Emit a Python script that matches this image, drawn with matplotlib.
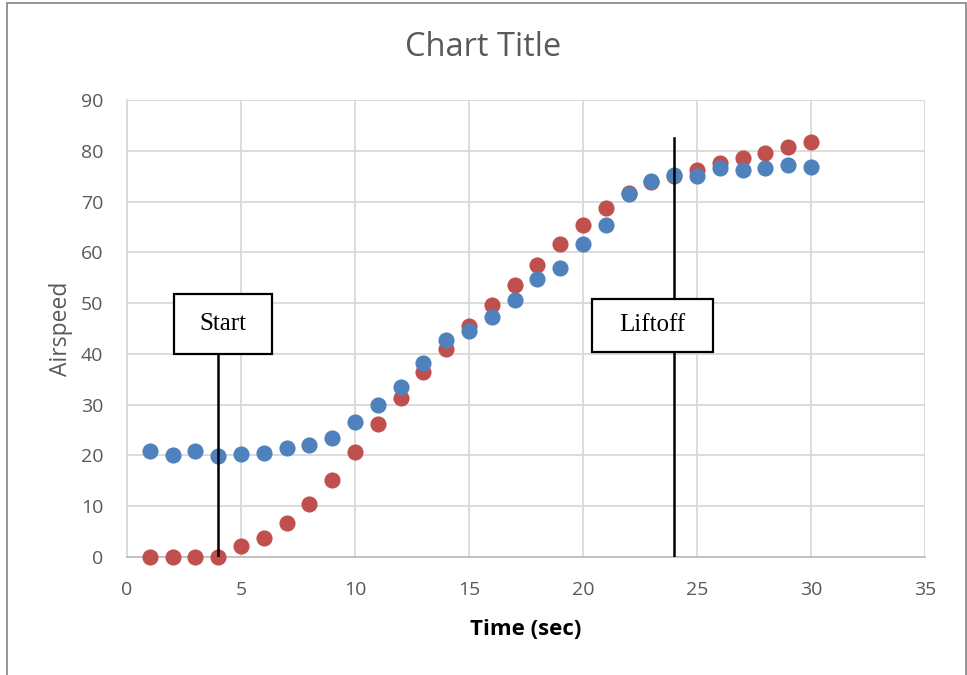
import matplotlib
matplotlib.use("Agg")
import matplotlib.pyplot as plt
from matplotlib.patches import Rectangle

# Time samples (seconds)
time_sec = [1, 2, 3, 4, 5, 6, 7, 8, 9, 10, 11, 12, 13, 14, 15,
            16, 17, 18, 19, 20, 21, 22, 23, 24, 25, 26, 27, 28, 29, 30]

# Airspeed series
airspeed_red = [0.0, 0.0, 0.0, 0.0, 2.2, 3.8, 6.6, 10.5, 15.2, 20.6,
                26.1, 31.4, 36.4, 40.9, 45.4, 49.6, 53.6, 57.6, 61.7, 65.4,
                68.7, 71.7, 73.9, 75.1, 76.3, 77.5, 78.5, 79.5, 80.7, 81.7]
airspeed_blue = [20.8, 20.1, 20.8, 19.8, 20.3, 20.5, 21.5, 22.0, 23.5, 26.5,
                 30.0, 33.5, 38.3, 42.8, 44.6, 47.3, 50.6, 54.8, 57.0, 61.6,
                 65.3, 71.5, 74.0, 75.2, 75.0, 76.6, 76.2, 76.7, 77.2, 76.9]

# Event markers
start_time = 4
liftoff_time = 24

x_ticks = [0, 5, 10, 15, 20, 25, 30, 35]
y_ticks = [0, 10, 20, 30, 40, 50, 60, 70, 80, 90]

RED = "#C0504D"
BLUE = "#4F81BD"
TEXT_GRAY = "#595959"
GRID = "#D9D9D9"

plt.rcParams["font.family"] = ["Open Sans", "DejaVu Sans"]

fig = plt.figure(figsize=(9.67, 6.75), dpi=100)
ax = fig.add_axes([127 / 967, 1 - 557 / 675, (925 - 127) / 967, (557 - 100) / 675])

# Outer chart border
fig.patches.append(Rectangle((6.5 / 967, -0.01), (966 - 6.5) / 967, 1.01 - 3 / 675,
                             transform=fig.transFigure, fill=False,
                             edgecolor="#8C8C8C", linewidth=1.3, zorder=0))

ax.set_xlim(0, 35)
ax.set_ylim(0, 90)
ax.set_xticks(x_ticks)
ax.set_yticks(y_ticks)
ax.grid(True, color=GRID, linewidth=1.3, zorder=0)
ax.set_axisbelow(True)
for side in ("top", "right"):
    ax.spines[side].set_visible(False)
ax.spines["left"].set_color(GRID)
ax.spines["left"].set_linewidth(1.3)
ax.spines["bottom"].set_color("#BFBFBF")
ax.spines["bottom"].set_linewidth(1.3)
ax.tick_params(length=0, labelsize=14, labelcolor=TEXT_GRAY)
ax.tick_params(axis="x", pad=17)
ax.tick_params(axis="y", pad=17)

ax.scatter(time_sec, airspeed_red, s=135, color=RED, linewidths=0, zorder=3,
           clip_on=False)
ax.scatter(time_sec, airspeed_blue, s=135, color=BLUE, linewidths=0, zorder=4,
           clip_on=False)

# Event lines with labelled boxes
ax.plot([start_time, start_time], [0, 40.0], color="black", linewidth=1.8, zorder=5)
ax.plot([liftoff_time, liftoff_time], [0, 82.5], color="black", linewidth=1.8, zorder=5)

ax.add_patch(Rectangle((2.06, 40.0), 4.3, 11.8, facecolor="white",
                       edgecolor="black", linewidth=1.6, zorder=6))
ax.text(2.06 + 2.15, 40.0 + 5.9, "Start", ha="center", va="center",
        family="Liberation Serif", fontsize=18, color="black", zorder=7)

ax.add_patch(Rectangle((20.4, 40.4), 5.3, 10.4, facecolor="white",
                       edgecolor="black", linewidth=1.6, zorder=6))
ax.text(20.4 + 2.65, 40.4 + 5.2, "Liftoff", ha="center", va="center",
        family="Liberation Serif", fontsize=18, color="black", zorder=7)

fig.text(0.5, 1 - 47 / 675, "Chart Title", ha="center", va="center",
         fontsize=23.5, color=TEXT_GRAY)
ax.set_xlabel("Time (sec)", fontsize=16, fontweight="bold", color="black",
              labelpad=15)
ax.set_ylabel("Airspeed", fontsize=16.5, color=TEXT_GRAY, labelpad=6)

fig.savefig("out.png", dpi=100)
